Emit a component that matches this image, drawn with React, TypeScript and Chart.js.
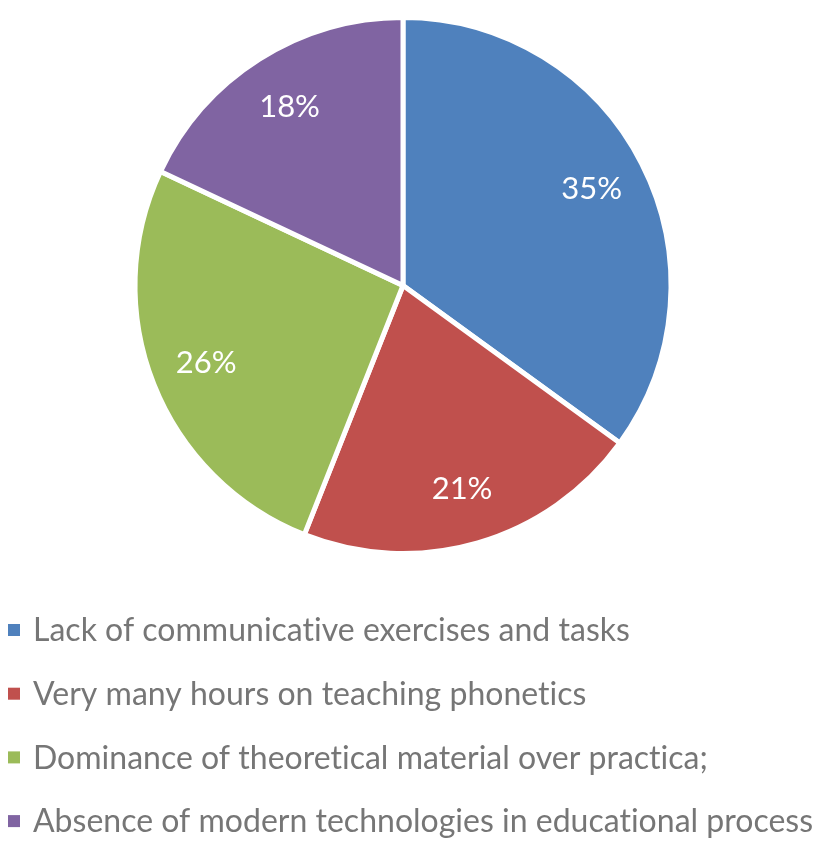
import React, { useEffect, useRef } from "react";
import { Chart, registerables } from "chart.js";

Chart.register(...registerables);

const categories = [
  "Lack of communicative exercises and tasks",
  "Very many hours on teaching phonetics",
  "Dominance of theoretical material over practica;",
  "Absence of modern technologies in educational process",
];
const values = [35, 21, 26, 18];
const colors = ["#4F81BD", "#C0504D", "#9BBB59", "#8064A2"];

const FONT = "Lato, 'Liberation Sans', sans-serif";

const sliceLabels = {
  id: "sliceLabels",
  afterDatasetsDraw(chart: any) {
    const ctx = chart.ctx;
    const meta = chart.getDatasetMeta(0);
    const data = chart.data.datasets[0].data as number[];
    const total = data.reduce((a, b) => a + b, 0);
    ctx.save();
    ctx.fillStyle = "#ffffff";
    ctx.font = `31px ${FONT}`;
    ctx.textAlign = "center";
    ctx.textBaseline = "middle";
    meta.data.forEach((arc: any, i: number) => {
      const { x, y, startAngle, endAngle, outerRadius } = arc.getProps(
        ["x", "y", "startAngle", "endAngle", "outerRadius"],
        true
      );
      const mid = (startAngle + endAngle) / 2;
      const r = outerRadius * 0.79;
      const pct = Math.round((data[i] / total) * 100) + "%";
      ctx.fillText(pct, x + Math.cos(mid) * r, y + Math.sin(mid) * r);
    });
    ctx.restore();
  },
};

const bottomLegend = {
  id: "bottomLegend",
  afterDraw(chart: any) {
    const ctx = chart.ctx;
    const labels = chart.data.labels as string[];
    const bg = chart.data.datasets[0].backgroundColor as string[];
    ctx.save();
    ctx.font = `32px ${FONT}`;
    try {
      (ctx as any).letterSpacing = "0.01px";
    } catch (e) {}
    ctx.textBaseline = "middle";
    ctx.textAlign = "left";
    const startY = 630;
    const step = 63.7;
    labels.forEach((lab, i) => {
      const cy = startY + i * step;
      ctx.fillStyle = bg[i];
      ctx.fillRect(8, cy - 6, 12, 12);
      ctx.fillStyle = "#767676";
      ctx.fillText(lab, 33, cy + 1);
    });
    ctx.restore();
  },
};

export default function App() {
  const ref = useRef<HTMLCanvasElement | null>(null);
  useEffect(() => {
    if (!ref.current) return;
    const chart = new Chart(ref.current, {
      type: "pie",
      data: {
        labels: categories,
        datasets: [
          {
            data: values,
            backgroundColor: colors,
            borderColor: "#ffffff",
            borderWidth: 5,
          },
        ],
      },
      options: {
        animation: false,
        responsive: false,
        layout: { padding: { top: 15, bottom: 287, left: 0, right: 17 } },
        plugins: {
          legend: { display: false },
          tooltip: { enabled: false },
        },
      },
      plugins: [sliceLabels, bottomLegend],
    });
    return () => chart.destroy();
  }, []);
  return (
    <div style={{ position: "absolute", left: 0, top: 0, width: 823, height: 843, background: "#fff" }}>
      <canvas ref={ref} width={823} height={843} style={{ width: 823, height: 843 }} />
    </div>
  );
}
